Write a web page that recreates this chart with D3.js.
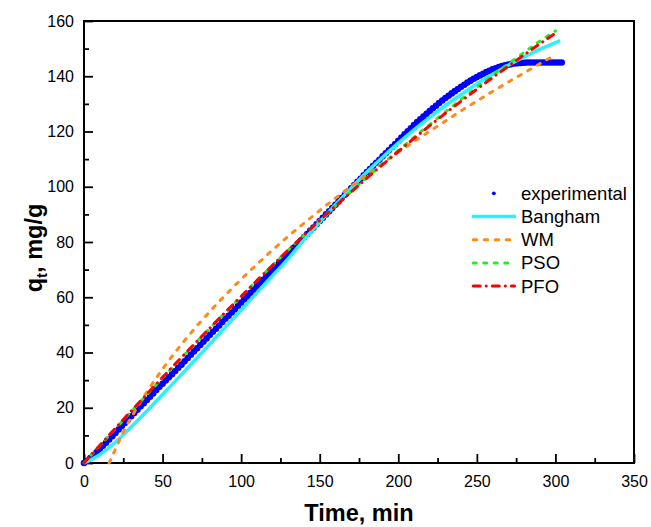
<!DOCTYPE html>
<html>
<head>
<meta charset="utf-8">
<script src="https://cdn.jsdelivr.net/npm/d3@7"></script>
<style>
  body { margin: 0; background: #fff; overflow: hidden; }
  svg { display: block; }
  text { font-family: "Liberation Sans", Arial, sans-serif; }
</style>
</head>
<body>
<div id="chart"></div>
<script>
// experimental points (every 2 min, 0..304)
var expTime = d3.range(0, 305, 2);
var expQ = [0,0.8,1.8,2.8,3.9,5.1,6.2,7.3,8.5,9.7,10.9,12.1,13.3,14.5,15.7,16.9,18.1,19.3,20.5,21.6,
  22.8,24.0,25.2,26.4,27.6,28.7,29.9,31.0,32.1,33.3,34.5,35.6,36.8,38.0,39.2,40.4,41.5,42.7,43.9,45.1,
  46.3,47.5,48.6,49.8,51.0,52.2,53.3,54.5,55.7,56.9,58.1,59.3,60.4,61.6,62.8,64.0,65.2,66.3,67.5,68.7,
  69.9,71.1,72.3,73.4,74.6,75.8,77.0,78.1,79.3,80.5,81.7,82.9,84.1,85.2,86.4,87.6,88.8,90.0,91.1,92.3,
  93.5,94.7,95.9,97.1,98.2,99.4,100.6,101.8,102.9,104.1,105.3,106.4,107.6,108.7,109.8,111.0,112.1,113.2,114.4,115.5,
  116.6,117.8,119.0,120.1,121.2,122.3,123.4,124.4,125.4,126.4,127.4,128.4,129.3,130.3,131.2,132.1,132.9,133.8,134.6,135.4,
  136.2,136.9,137.7,138.4,139.1,139.7,140.3,140.9,141.5,142.0,142.5,142.9,143.3,143.7,144.0,144.2,144.4,144.6,144.7,144.8,
  144.9,145.0,145.0,145.0,145.0,145.0,145.0,145.0,145.0,145.0,145.0,145.0,145.0];

// model curves
var fitTime = [0,10,20,30,40,50,60,70,80,90,100,110,120,130,140,150,160,170,180,190,200,210,220,230,240,250,260,270,280,290,300,303];
var banghamQ = [0,3.0,7.5,13.0,18.8,24.8,30.8,36.9,43.0,49.2,55.4,61.6,67.8,74.0,80.8,87.2,93.5,99.5,105.3,110.7,115.8,120.6,125.1,129.4,133.4,137.2,140.7,144.0,147.0,149.7,152.2,152.9];

var wmTime = [16,20,25,30,35,40,50,60,70,80,90,100,110,120,130,140,150,160,170,180,190,200,210,220,230,240,250,260,270,280,290,300];
var wmQ = [0,5.0,11.2,16.4,21.2,25.7,34.0,41.5,48.4,54.8,60.8,66.5,71.9,77.1,82.1,86.8,91.4,95.9,100.2,104.4,108.5,112.5,116.4,120.1,123.8,127.5,131.0,134.5,137.9,141.2,144.5,147.8];

var modelTime = [0,10,20,30,40,50,60,70,80,90,100,110,120,130,140,150,160,170,180,190,200,210,220,230,240,250,260,270,280,290,300];
var psoQ = [0,6.2,12.4,18.6,24.7,30.8,36.8,42.8,48.7,54.5,60.3,66.0,71.6,77.1,82.5,87.9,93.1,98.3,103.3,108.3,113.1,117.9,122.5,127.1,131.6,136.0,140.3,144.5,148.6,152.7,156.4];
var pfoQ = [0,6.3,12.6,18.8,24.9,31.0,37.0,42.9,48.8,54.6,60.3,66.0,71.6,77.1,82.5,87.8,93.0,98.1,103.1,108.0,112.8,117.5,122.1,126.6,131.0,135.3,139.5,143.6,147.7,151.7,155.6];

var legendNames = ["experimental", "Bangham", "WM", "PSO", "PFO"];
var xTicks = [0,50,100,150,200,250,300,350];
var yTicks = [0,20,40,60,80,100,120,140,160];
var xMinorTicks = [25,75,125,175,225,275,325];
var yMinorTicks = [10,30,50,70,90,110,130,150];

// Outer dims
var outerWidth = 651;
var outerHeight = 527;
var marginLeft = 84;
var marginTop = 21;
var innerWidth = 550;
var innerHeight = 442;

var svg = d3.select("#chart").append("svg")
  .attr("width", outerWidth)
  .attr("height", outerHeight);

var g = svg.append("g").attr("transform", "translate(" + marginLeft + "," + marginTop + ")");

var xScale = d3.scaleLinear().domain([0, 350]).range([0, innerWidth]);
var yScale = d3.scaleLinear().domain([0, 160]).range([innerHeight, 0]);

var xMinor = d3.axisBottom(xScale).tickValues(xMinorTicks).tickSize(-5).tickFormat("");
var yMinor = d3.axisLeft(yScale).tickValues(yMinorTicks).tickSize(-5).tickFormat("");
var xAxis = d3.axisBottom(xScale).tickValues(xTicks).tickSize(-9).tickPadding(12.5);
var yAxis = d3.axisLeft(yScale).tickValues(yTicks).tickSize(-9).tickPadding(10);

var xMinorG = g.append("g").attr("transform", "translate(0," + innerHeight + ")").call(xMinor);
var yMinorG = g.append("g").call(yMinor);
var xAxisG = g.append("g").attr("transform", "translate(0," + innerHeight + ")").call(xAxis);
var yAxisG = g.append("g").call(yAxis);

// minor ticks have no labels
xMinorG.selectAll(".tick text").remove();
yMinorG.selectAll(".tick text").remove();

[xMinorG, yMinorG, xAxisG, yAxisG].forEach(function(a) {
  a.select(".domain").remove();
  a.selectAll(".tick line").attr("stroke", "#000").attr("stroke-width", 1.8);
  a.selectAll(".tick text").attr("font-size", 16).attr("fill", "#000")
    .style("font-family", "'Liberation Sans', Arial, sans-serif");
});

// frame
g.append("rect")
  .attr("x", 0).attr("y", 0)
  .attr("width", innerWidth).attr("height", innerHeight)
  .attr("fill", "none").attr("stroke", "#000").attr("stroke-width", 2);

// experimental
var expData = expTime.map(function(t, i) { return { t: t, q: expQ[i] }; });
g.selectAll("circle.exp").data(expData).enter().append("circle")
  .attr("class", "exp")
  .attr("cx", function(d) { return xScale(d.t); })
  .attr("cy", function(d) { return yScale(d.q); })
  .attr("r", 3.3)
  .attr("fill", "#0000ff");

var line = d3.line()
  .x(function(d) { return xScale(d.t); })
  .y(function(d) { return yScale(d.q); })
  .curve(d3.curveMonotoneX);

function zipSeries(ts, qs) {
  return ts.map(function(t, i) { return { t: t, q: qs[i] }; });
}

var series = [
  { data: zipSeries(fitTime, banghamQ), color: "#2ef0f5", width: 3.5, dash: null },
  { data: zipSeries(wmTime, wmQ), color: "#ff8a1c", width: 3, dash: "3.5,7.5" },
  { data: zipSeries(modelTime, psoQ), color: "#22ee22", width: 3, dash: "3,7.5" },
  { data: zipSeries(modelTime, pfoQ), color: "#ff0000", width: 3, dash: "7,6,0.1,6" }
];

series.forEach(function(s) {
  g.append("path")
    .datum(s.data)
    .attr("d", line)
    .attr("fill", "none")
    .attr("stroke", s.color)
    .attr("stroke-width", s.width)
    .attr("stroke-linecap", s.dash ? "round" : "butt")
    .attr("stroke-dasharray", s.dash);
});

// legend
var legX1 = 471.7, legX2 = 516, legTextX = 521, legY0 = 193.3, legStep = 23.2;
var legG = svg.append("g");
legendNames.forEach(function(name, i) {
  var y = legY0 + i * legStep;
  if (i === 0) {
    legG.append("circle").attr("cx", (legX1 + legX2) / 2).attr("cy", y).attr("r", 1.9).attr("fill", "#0000ff");
  } else {
    var s = series[i - 1];
    legG.append("line")
      .attr("x1", legX1 + (s.dash ? 1.5 : 0)).attr("x2", legX2 - (s.dash ? 1.5 : 0))
      .attr("y1", y).attr("y2", y)
      .attr("stroke", s.color)
      .attr("stroke-width", s.width)
      .attr("stroke-linecap", s.dash ? "round" : "butt")
      .attr("stroke-dasharray", s.dash);
  }
  legG.append("text")
    .attr("x", legTextX).attr("y", y + 6.5)
    .attr("font-size", 18.5)
    .text(name);
});

// axis titles
svg.append("text")
  .attr("x", marginLeft + innerWidth / 2)
  .attr("y", 521)
  .attr("text-anchor", "middle")
  .attr("font-size", 23.5)
  .attr("font-weight", "bold")
  .text("Time, min");

var yLab = svg.append("text")
  .attr("transform", "translate(42," + (marginTop + innerHeight / 2 + 6) + ") rotate(-90)")
  .attr("text-anchor", "middle")
  .attr("font-size", 23.5)
  .attr("font-weight", "bold");
yLab.append("tspan").text("q");
yLab.append("tspan").attr("font-size", 15).attr("dy", 5).text("t");
yLab.append("tspan").attr("dy", -5).text(", mg/g");
</script>
</body>
</html>
